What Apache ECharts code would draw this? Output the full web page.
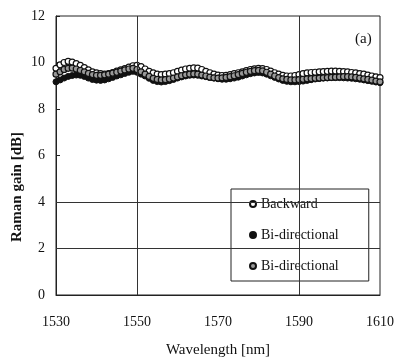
<!DOCTYPE html>
<html><head><meta charset="utf-8">
<script src="https://cdn.jsdelivr.net/npm/echarts@6/dist/echarts.min.js"></script>
<style>html,body{margin:0;padding:0;background:#fff}#c{width:397px;height:363px}</style>
</head><body><div id="c"></div>
<script>
// Wavelengths 1530..1610 nm, 1 nm step
const wavelengths = [1530,1531,1532,1533,1534,1535,1536,1537,1538,1539,1540,1541,1542,1543,1544,1545,1546,1547,1548,1549,1550,1551,1552,1553,1554,1555,1556,1557,1558,1559,1560,1561,1562,1563,1564,1565,1566,1567,1568,1569,1570,1571,1572,1573,1574,1575,1576,1577,1578,1579,1580,1581,1582,1583,1584,1585,1586,1587,1588,1589,1590,1591,1592,1593,1594,1595,1596,1597,1598,1599,1600,1601,1602,1603,1604,1605,1606,1607,1608,1609,1610];
const backward = [9.75,9.9,10.0,10.05,10.02,9.95,9.88,9.78,9.68,9.6,9.55,9.52,9.5,9.52,9.57,9.63,9.68,9.74,9.8,9.86,9.88,9.82,9.72,9.62,9.55,9.5,9.48,9.5,9.52,9.56,9.62,9.67,9.72,9.75,9.77,9.76,9.7,9.62,9.56,9.5,9.46,9.44,9.45,9.48,9.52,9.56,9.6,9.65,9.7,9.73,9.75,9.74,9.7,9.63,9.56,9.5,9.45,9.42,9.42,9.44,9.48,9.52,9.55,9.57,9.58,9.6,9.61,9.62,9.63,9.63,9.62,9.61,9.6,9.57,9.55,9.52,9.5,9.46,9.42,9.38,9.35];
const biFilled = [9.17,9.25,9.33,9.4,9.44,9.46,9.45,9.4,9.33,9.27,9.24,9.23,9.25,9.3,9.36,9.42,9.47,9.53,9.58,9.62,9.58,9.5,9.42,9.32,9.23,9.18,9.16,9.18,9.22,9.27,9.33,9.38,9.42,9.45,9.46,9.45,9.42,9.39,9.36,9.33,9.3,9.28,9.28,9.3,9.33,9.37,9.42,9.47,9.52,9.55,9.57,9.55,9.5,9.43,9.36,9.29,9.23,9.19,9.17,9.17,9.18,9.2,9.23,9.26,9.29,9.31,9.33,9.34,9.35,9.35,9.35,9.34,9.33,9.32,9.3,9.28,9.25,9.22,9.19,9.16,9.13];
const biDotted = [9.5,9.6,9.7,9.75,9.76,9.72,9.66,9.6,9.53,9.48,9.45,9.45,9.47,9.5,9.54,9.58,9.63,9.68,9.72,9.75,9.7,9.6,9.5,9.4,9.32,9.27,9.25,9.26,9.29,9.33,9.38,9.43,9.47,9.5,9.51,9.5,9.46,9.42,9.37,9.34,9.33,9.34,9.36,9.39,9.43,9.48,9.53,9.58,9.62,9.65,9.66,9.64,9.58,9.5,9.42,9.35,9.3,9.27,9.25,9.25,9.26,9.28,9.3,9.31,9.32,9.33,9.34,9.35,9.36,9.37,9.38,9.39,9.39,9.38,9.36,9.33,9.3,9.27,9.24,9.2,9.17];
const seriesNames = ['Backward','Bi-directional','Bi-directional '];
const xTicks = [1530,1550,1570,1590,1610];
const yTicks = [0,2,4,6,8,10,12];
const gridX = [1550,1590];
const gridY = [2,4];

const FONT = '"Liberation Serif", "DejaVu Serif", serif';
const pair = arr => wavelengths.map((w,i)=>[w,arr[i]]);
const chart = echarts.init(document.getElementById('c'));
chart.setOption({
  animation:false,
  backgroundColor:'#fff',
  grid:{left:56,right:14,top:16,bottom:68,show:true,borderColor:'#222',borderWidth:1},
  xAxis:{type:'value',min:xTicks[0],max:xTicks[xTicks.length-1],interval:20,
    axisLine:{show:true,lineStyle:{color:'#222'}},axisTick:{show:false},splitLine:{show:false},
    axisLabel:{color:'#111',fontFamily:FONT,fontSize:14,margin:20,formatter:v=>String(v)},
    name:'Wavelength [nm]',nameLocation:'middle',nameGap:48,
    nameTextStyle:{color:'#111',fontFamily:FONT,fontSize:15}},
  yAxis:{type:'value',min:yTicks[0],max:yTicks[yTicks.length-1],interval:2,
    axisLine:{show:true,lineStyle:{color:'#222'}},
    axisTick:{show:true,inside:true,length:4,lineStyle:{color:'#222'}},splitLine:{show:false},
    axisLabel:{color:'#111',fontFamily:FONT,fontSize:14,margin:11}},
  legend:{orient:'vertical',left:231,top:189,data:seriesNames,
    formatter:n=>n.trim(),
    backgroundColor:'#fff',borderColor:'#222',borderWidth:1,
    padding:[8,30,8,18],itemGap:17,itemWidth:6,itemHeight:6,
    textStyle:{color:'#111',fontFamily:FONT,fontSize:14}},
  graphic:[
    {type:'text',left:355,top:32,style:{text:'(a)',font:'15px '+FONT,fill:'#111'}},
    {type:'text',x:17,y:187,rotation:Math.PI/2,style:{text:'Raman gain [dB]',font:'bold 15px '+FONT,fill:'#111',align:'center',verticalAlign:'middle'}}
  ],
  series:[
    {name:seriesNames[0],type:'scatter',symbol:'circle',symbolSize:6,data:pair(backward),
      itemStyle:{color:'#fff',borderColor:'#111',borderWidth:1.2,opacity:1},
      markLine:{silent:true,symbol:['none','none'],label:{show:false},
        lineStyle:{color:'#333',width:1,type:'solid'},
        data:gridX.map(v=>({xAxis:v})).concat(gridY.map(v=>({yAxis:v})))}},
    {name:seriesNames[1],type:'scatter',symbol:'circle',symbolSize:6,data:pair(biFilled),
      itemStyle:{color:'#111',borderColor:'#111',borderWidth:1,opacity:1}},
    {name:seriesNames[2],type:'scatter',symbol:'circle',symbolSize:6,data:pair(biDotted),
      itemStyle:{color:'#999',borderColor:'#111',borderWidth:1.2,opacity:1}}
  ]
});
</script></body></html>
